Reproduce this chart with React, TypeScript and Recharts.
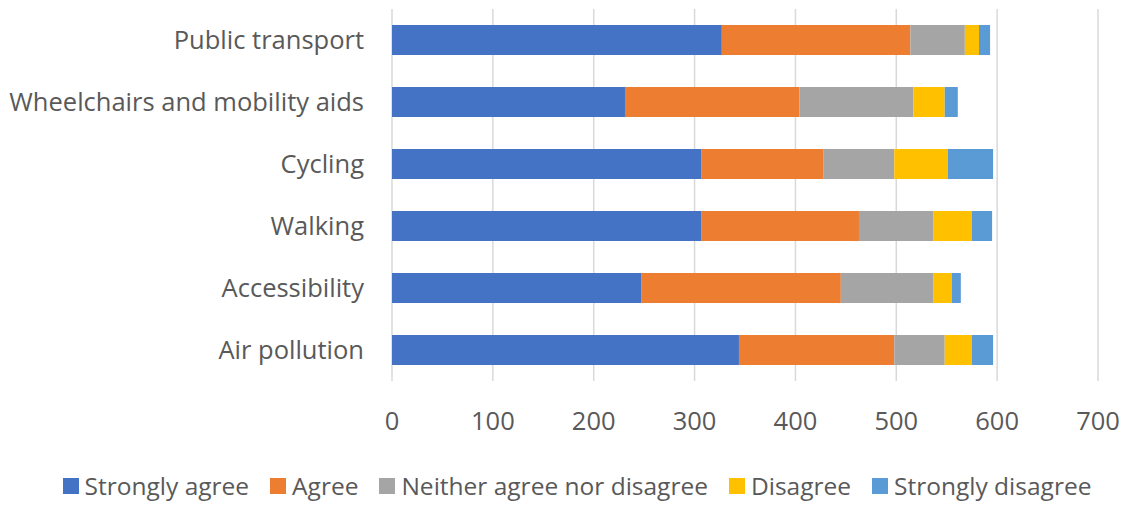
import React from 'react';
import { BarChart, Bar, XAxis, YAxis, CartesianGrid, Legend } from 'recharts';

// categories top to bottom
const categories = [
  'Public transport',
  'Wheelchairs and mobility aids',
  'Cycling',
  'Walking',
  'Accessibility',
  'Air pollution',
];

const stronglyAgree = [327, 231, 307, 307, 247, 344];
const agree = [187, 173, 121, 156, 198, 154];
const neither = [54, 113, 70, 74, 92, 50];
const disagree = [14, 31, 53, 38, 18, 27];
const stronglyDisagree = [11, 13, 45, 20, 9, 21];

const xTicks = [0, 100, 200, 300, 400, 500, 600, 700];

const SERIES = [
  { key: 'Strongly agree', values: stronglyAgree, color: '#4472C4' },
  { key: 'Agree', values: agree, color: '#ED7D31' },
  { key: 'Neither agree nor disagree', values: neither, color: '#A5A5A5' },
  { key: 'Disagree', values: disagree, color: '#FFC000' },
  { key: 'Strongly disagree', values: stronglyDisagree, color: '#5B9BD5' },
];

const data = categories.map((name, i) => {
  const row: Record<string, string | number> = { name };
  SERIES.forEach((s) => {
    row[s.key] = s.values[i];
  });
  return row;
});

const FONT = '"Open Sans", Lato, sans-serif';
const TEXT = '#595959';

const renderLegend = () => (
  <div
    style={{
      display: 'flex',
      justifyContent: 'center',
      paddingLeft: 30,
      fontFamily: FONT,
      fontSize: 24.5,
      color: TEXT,
      whiteSpace: 'nowrap',
    }}
  >
    {SERIES.map((s, i) => (
      <div
        key={s.key}
        style={{ display: 'flex', alignItems: 'center', marginRight: i < SERIES.length - 1 ? 21 : 0 }}
      >
        <span style={{ width: 16, height: 16, background: s.color, marginRight: 6, display: 'inline-block' }} />
        <span>{s.key}</span>
      </div>
    ))}
  </div>
);

export default function App() {
  return (
    <div style={{ position: 'absolute', left: 0, top: 0, background: '#fff', fontFamily: FONT }}>
      <BarChart
        width={1124}
        height={505}
        data={data}
        layout="vertical"
        margin={{ top: 9, right: 26, bottom: 17, left: 0 }}
        barCategoryGap={16}
      >
        <CartesianGrid horizontal={false} vertical={true} stroke="#d9d9d9" strokeWidth={1.5} />
        <XAxis
          type="number"
          domain={[0, 700]}
          ticks={xTicks}
          axisLine={false}
          tickLine={false}
          tickSize={0}
          tickMargin={31}
          height={74}
          tick={{ fill: TEXT, fontSize: 25.5, fontFamily: FONT }}
        />
        <YAxis
          type="category"
          dataKey="name"
          width={392}
          axisLine={false}
          tickLine={false}
          tickSize={0}
          tickMargin={28}
          tick={{ fill: TEXT, fontSize: 25.5, fontFamily: FONT }}
        />
        <Legend verticalAlign="bottom" content={renderLegend} wrapperStyle={{ bottom: 3, left: 0, width: 1124 }} />
        {SERIES.map((s) => (
          <Bar
            key={s.key}
            dataKey={s.key}
            stackId="a"
            fill={s.color}
            barSize={30}
            isAnimationActive={false}
          />
        ))}
      </BarChart>
    </div>
  );
}
